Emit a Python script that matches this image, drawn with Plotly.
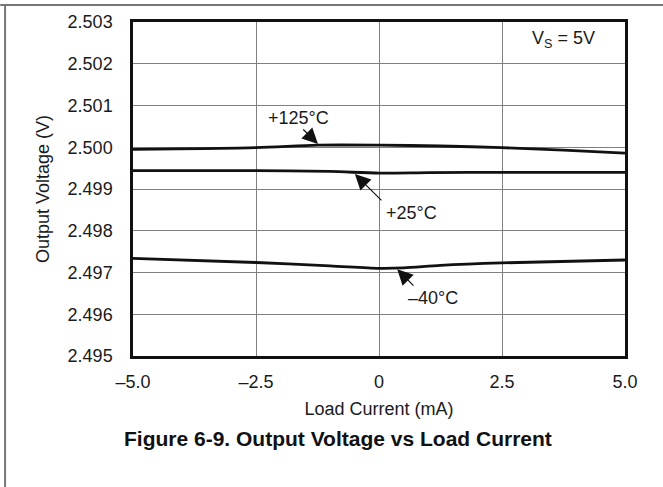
import plotly.graph_objects as go

# ---- data ----
x_125 = [-5.0, -2.5, -1.25, 0.0, 1.25, 2.5, 3.75, 5.0]
v_125 = [2.49995, 2.49999, 2.50005, 2.50005, 2.50003, 2.49999, 2.49993, 2.49986]

x_25 = [-5.0, -2.5, -1.0, 0.0, 1.0, 2.5, 5.0]
v_25 = [2.49944, 2.49944, 2.49942, 2.49938, 2.49939, 2.49940, 2.49940]

x_m40 = [-5.0, -2.5, -1.0, 0.0, 0.5, 1.25, 2.5, 5.0]
v_m40 = [2.49734, 2.49724, 2.49716, 2.49710, 2.49711, 2.49717, 2.49723, 2.49730]

x_tickvals = [-5.0, -2.5, 0.0, 2.5, 5.0]
x_ticktext = ["–5.0", "–2.5", "0", "2.5", "5.0"]
y_tickvals = [2.495, 2.496, 2.497, 2.498, 2.499, 2.500, 2.501, 2.502, 2.503]

FONT = "Liberation Sans, Arial, Helvetica, sans-serif"

fig = go.Figure()
for xs, ys in [(x_125, v_125), (x_25, v_25), (x_m40, v_m40)]:
    fig.add_trace(go.Scatter(x=xs, y=ys, mode="lines",
                             line=dict(color="#111111", width=2.8, shape="spline", smoothing=0.8),
                             showlegend=False, hoverinfo="skip"))

fig.update_layout(
    width=663, height=487,
    margin=dict(l=133, r=38, t=22, b=131),
    paper_bgcolor="white", plot_bgcolor="white",
    font=dict(family=FONT, size=18, color="#1a1a1a"),
    showlegend=False,
)
fig.update_xaxes(
    range=[-5, 5], tickvals=x_tickvals, ticktext=x_ticktext,
    showgrid=True, gridcolor="#808080", gridwidth=1,
    showline=True, linecolor="#111111", linewidth=2.5, mirror=True,
    ticks="", ticklabelstandoff=8, zeroline=False,
    title=dict(text="Load Current (mA)", standoff=12, font=dict(size=18)),
    tickfont=dict(size=18),
)
fig.update_yaxes(
    range=[2.495, 2.503], tickvals=y_tickvals, tickformat=".3f",
    showgrid=True, gridcolor="#808080", gridwidth=1,
    showline=True, linecolor="#111111", linewidth=2.5, mirror=True,
    ticks="", ticklabelstandoff=14, zeroline=False,
    title=dict(text="Output Voltage (V)", standoff=14, font=dict(size=18)),
    tickfont=dict(size=18),
)

# arrows (data coords)
arrows = [
    ((-1.24, 2.50008), (-1.57, 2.50046)),
    ((-0.49, 2.49936), (0.08, 2.49869)),
    ((0.37, 2.49708), (0.73, 2.49665)),
]
for (tx, ty), (ax, ay) in arrows:
    fig.add_annotation(x=tx, y=ty, ax=ax, ay=ay, xref="x", yref="y", axref="x", ayref="y",
                       text="", showarrow=True, arrowhead=2, arrowsize=2.6, arrowwidth=1.2,
                       arrowcolor="#111111", standoff=0)

labels = [("+125°C", -1.63, 2.5007), ("+25°C", 0.67, 2.49842), ("–40°C", 1.10, 2.49639),
          ("V<sub>S</sub> = 5V", 3.74, 2.50257)]
for t, lx, ly in labels:
    fig.add_annotation(x=lx, y=ly, xref="x", yref="y", text=t, showarrow=False,
                       xanchor="center", yanchor="middle",
                       font=dict(size=18, color="#1a1a1a"))

fig.add_annotation(x=0.417, y=-0.2485, xref="paper", yref="paper",
                   xanchor="center", yanchor="middle",
                   text="<b>Figure 6-9. Output Voltage vs Load Current</b>", showarrow=False,
                   font=dict(size=21, color="#111111"))

# page border lines (top and left)
fig.add_shape(type="line", xref="paper", yref="paper", x0=-0.27, x1=1.08, y0=1.051, y1=1.051,
              line=dict(color="#777777", width=2))
fig.add_shape(type="line", xref="paper", yref="paper", x0=-0.260, x1=-0.260, y0=1.051, y1=-0.40,
              line=dict(color="#777777", width=2))

fig.write_html("out.html")
